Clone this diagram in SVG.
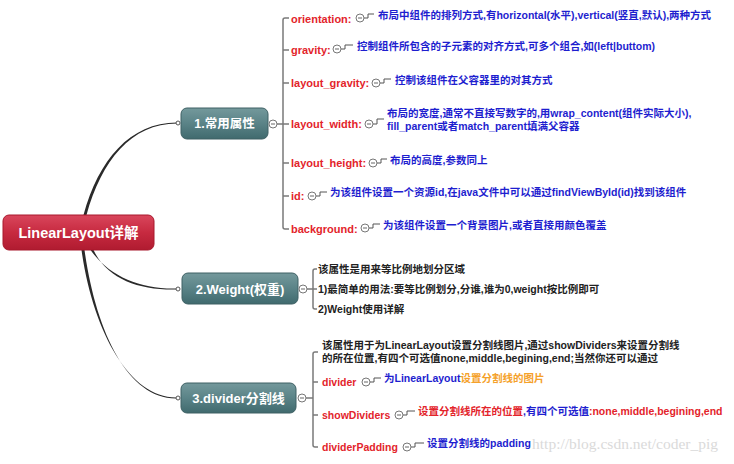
<svg xmlns="http://www.w3.org/2000/svg" xmlns:xlink="http://www.w3.org/1999/xlink" width="734" height="464" viewBox="0 0 734 464">
<defs>
<linearGradient id="gRed" x1="0" y1="0" x2="0" y2="1">
<stop offset="0" stop-color="#d9465c"/>
<stop offset="0.5" stop-color="#c72a40"/>
<stop offset="1" stop-color="#b01b30"/>
</linearGradient>
<linearGradient id="gTeal" x1="0" y1="0" x2="0" y2="1">
<stop offset="0" stop-color="#74999c"/>
<stop offset="0.5" stop-color="#5a8387"/>
<stop offset="1" stop-color="#406a6e"/>
</linearGradient>
<g id="col"><circle r="4" fill="#fff" stroke="#777" stroke-width="1"/><line x1="-2" y1="0" x2="2" y2="0" stroke="#666" stroke-width="1"/></g>
</defs>
<style>
text{font-family:"Liberation Sans","Noto Sans CJK SC",sans-serif;font-weight:bold;dominant-baseline:central}
.lbl{font-size:11px;fill:#e3242b}
.lbl3{font-size:10.5px}
.d{font-size:10.5px}
.blue{fill:#1e1ecf}
.blk{fill:#222}
.org{fill:#f5a12a}
.red{fill:#e3242b}
.nt{fill:#fff;font-size:13px;text-anchor:middle}
.br{fill:none;stroke:#7a7a7a;stroke-width:1.5}
.lk{fill:none;stroke:#555;stroke-width:1}
.dot{fill:#fff;stroke:#555;stroke-width:1}
.wm{font-family:"Liberation Serif",serif;font-weight:normal;font-size:15.5px;fill:#dadada;text-anchor:end}
</style>
<rect width="734" height="464" fill="#fff"/>
<text class="wm" x="718" y="443">http://blog.csdn.net/coder_pig</text>

<g id="connectors">
<path d="M83.5,215 C98.5,160 130,122.5 177,122.5 L177,123.5 C131,123.5 101.5,161 86.5,215 Z" fill="#2a2a2a"/>
<path d="M90.5,250 C109,276 140,289.5 177,288.5 L177,289.5 C139,290.5 107,279 93.5,250 Z" fill="#2a2a2a"/>
<path d="M81.5,250 C93,332 130,398.5 177,397.5 L177,398.5 C128,399.5 96,332 84.5,250 Z" fill="#2a2a2a"/>
<circle class="dot" cx="178" cy="123" r="2"/>
<circle class="dot" cx="178" cy="289" r="2"/>
<circle class="dot" cx="178" cy="398" r="2"/>
<path class="br" d="M277,124 H283 M289,18 H285 Q283,18 283,20 V227 Q283,229 285,229 H289 M283,50 H289 M283,83 H289 M283,124 H289 M283,163 H289 M283,196 H289"/>
<path class="br" d="M307,289 H313 M317,269 H315 Q313,269 313,271 V307 Q313,309 315,309 H317 M313,289 H317"/>
<path class="br" d="M306,398 H313 M318,352 H315 Q313,352 313,354 V445 Q313,447 315,447 H318 M313,382 H318 M313,415 H318"/>
<path class="lk" d="M364,18 H368 V14 H374"/>
<path class="lk" d="M341,49 H345 V45 H353"/>
<path class="lk" d="M380,83 H384 V79 H391"/>
<path class="lk" d="M373,124 H377 V119 H384"/>
<path class="lk" d="M377,163 H381 V159 H387"/>
<path class="lk" d="M316,196 H320 V192 H327"/>
<path class="lk" d="M369,228 H373 V224 H380"/>
<path class="lk" d="M370,382 H374 V378 H381"/>
<path class="lk" d="M403,415 H407 V411 H415"/>
<path class="lk" d="M411,447 H415 V443 H424"/>
</g>

<g id="root">
<rect x="3" y="215" width="151" height="35" rx="6" fill="url(#gRed)" stroke="#a8182c" stroke-width="1"/>
<text class="nt" x="78.5" y="233" style="font-size:14.5px">LinearLayout详解</text>
</g>

<g id="n1">
<rect x="181" y="108" width="87" height="31" rx="6" fill="url(#gTeal)" stroke="#3e6064" stroke-width="1"/>
<text class="nt" x="224.5" y="124" style="font-size:12.5px">1.常用属性</text>
<use xlink:href="#col" x="273" y="124"/>
</g>

<g id="n1-orientation">
<text class="lbl" x="291" y="19">orientation:</text>
<use xlink:href="#col" x="360" y="18"/>
<text class="d blue" x="378" y="15">布局中组件的排列方式,有horizontal(水平),vertical(竖直,默认),两种方式</text>
</g>
<g id="n1-gravity">
<text class="lbl" x="291" y="50">gravity:</text>
<use xlink:href="#col" x="337" y="49"/>
<text class="d blue" x="357" y="46">控制组件所包含的子元素的对齐方式,可多个组合,如(left|buttom)</text>
</g>
<g id="n1-layout_gravity">
<text class="lbl" x="291" y="83">layout_gravity:</text>
<use xlink:href="#col" x="376" y="83"/>
<text class="d blue" x="395" y="80">控制该组件在父容器里的对其方式</text>
</g>
<g id="n1-layout_width">
<text class="lbl" x="291" y="124">layout_width:</text>
<use xlink:href="#col" x="369" y="124"/>
<text class="d blue" x="387" y="113">布局的宽度,通常不直接写数字的,用wrap_content(组件实际大小),</text>
<text class="d blue" x="387" y="126">fill_parent或者match_parent填满父容器</text>
</g>
<g id="n1-layout_height">
<text class="lbl" x="291" y="163">layout_height:</text>
<use xlink:href="#col" x="373" y="163"/>
<text class="d blue" x="390" y="160">布局的高度,参数同上</text>
</g>
<g id="n1-id">
<text class="lbl" x="291" y="196">id:</text>
<use xlink:href="#col" x="312" y="196"/>
<text class="d blue" x="330" y="192">为该组件设置一个资源id,在java文件中可以通过findViewById(id)找到该组件</text>
</g>
<g id="n1-background">
<text class="lbl" x="291" y="229">background:</text>
<use xlink:href="#col" x="365" y="228"/>
<text class="d blue" x="383" y="225">为该组件设置一个背景图片,或者直接用颜色覆盖</text>
</g>

<g id="n2">
<rect x="182" y="273" width="116" height="31" rx="6" fill="url(#gTeal)" stroke="#3e6064" stroke-width="1"/>
<text class="nt" x="240" y="289">2.Weight(权重)</text>
<use xlink:href="#col" x="303" y="289"/>
</g>
<g id="n2-items">
<text class="d blk" x="318" y="269">该属性是用来等比例地划分区域</text>
<text class="d blk" x="318" y="289">1)最简单的用法:要等比例划分,分谁,谁为0,weight按比例即可</text>
<text class="d blk" x="318" y="309">2)Weight使用详解</text>
</g>

<g id="n3">
<rect x="181" y="383" width="115" height="30" rx="6" fill="url(#gTeal)" stroke="#3e6064" stroke-width="1"/>
<text class="nt" x="238.5" y="398">3.divider分割线</text>
<use xlink:href="#col" x="302" y="398"/>
</g>
<g id="n3-intro">
<text class="d blk" x="322" y="345">该属性用于为LinearLayout设置分割线图片,通过showDividers来设置分割线</text>
<text class="d blk" x="322" y="358">的所在位置,有四个可选值none,middle,begining,end;当然你还可以通过</text>
</g>
<g id="n3-divider">
<text class="lbl lbl3" x="322" y="382">divider</text>
<use xlink:href="#col" x="366" y="382"/>
<text class="d" x="384" y="378"><tspan class="blue">为LinearLayout</tspan><tspan class="org">设置分割线的图片</tspan></text>
</g>
<g id="n3-showDividers">
<text class="lbl lbl3" x="322" y="415">showDividers</text>
<use xlink:href="#col" x="399" y="415"/>
<text class="d" x="418" y="411"><tspan class="red">设置分割线所在的位置</tspan><tspan class="blue">,有四个可选值</tspan><tspan class="red">:none,middle,begining,end</tspan></text>
</g>
<g id="n3-dividerPadding">
<text class="lbl lbl3" x="322" y="447">dividerPadding</text>
<use xlink:href="#col" x="407" y="447"/>
<text class="d blue" x="427" y="443">设置分割线的padding</text>
</g>
</svg>
